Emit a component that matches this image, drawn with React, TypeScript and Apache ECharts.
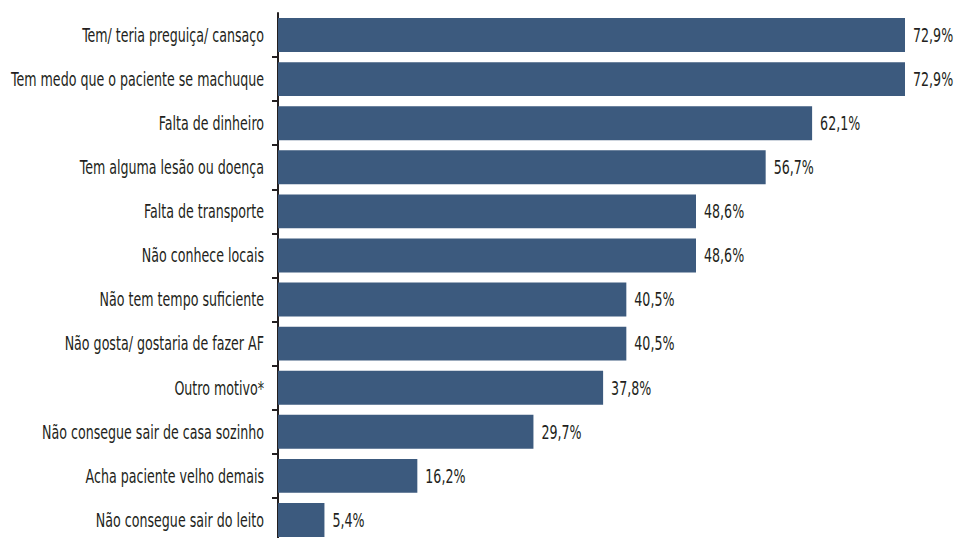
import React, { useEffect, useRef } from "react";
import * as echarts from "echarts";

const categories = [
  "Tem/ teria preguiça/ cansaço",
  "Tem medo que o paciente se machuque",
  "Falta de dinheiro",
  "Tem alguma lesão ou doença",
  "Falta de transporte",
  "Não conhece locais",
  "Não tem tempo suficiente",
  "Não gosta/ gostaria de fazer AF",
  "Outro motivo*",
  "Não consegue sair de casa sozinho",
  "Acha paciente velho demais",
  "Não consegue sair do leito",
];

const values = [72.9, 72.9, 62.1, 56.7, 48.6, 48.6, 40.5, 40.5, 37.8, 29.7, 16.2, 5.4];

const FONT = "'DejaVu Sans Condensed', 'DejaVu Sans', sans-serif";
const TEXT = "#231f20";
const SQUEEZE = 0.74;

export default function App() {
  const ref = useRef<HTMLDivElement>(null);
  useEffect(() => {
    document.body.style.margin = "0";
    document.body.style.overflow = "hidden";
    const chart = echarts.init(ref.current!, undefined, { renderer: "svg" });
    chart.setOption({
      animation: false,
      grid: { left: 278, right: 50, top: 13, height: 529, containLabel: false, outerBoundsMode: "none" },
      xAxis: {
        type: "value",
        min: 0,
        max: 72.9,
        show: false,
      },
      yAxis: {
        type: "category",
        data: categories,
        inverse: true,
        axisLine: { show: true, lineStyle: { color: TEXT, width: 2 } },
        axisTick: {
          show: true,
          length: 6,
          lineStyle: { color: TEXT, width: 2 },
          interval: (i: number) => i !== 0,
        },
        axisLabel: { show: false },
      },
      series: [
        {
          type: "bar",
          data: values,
          barCategoryGap: "23%",
          itemStyle: { color: "#3c5a7e" },
        },
        {
          type: "custom",
          clip: false,
          silent: true,
          data: values.map((v, i) => [v, i]),
          encode: { x: 0, y: 1 },
          renderItem: (params: any, api: any) => {
            const v = api.value(0);
            const i = api.value(1);
            const start = api.coord([0, i]);
            const end = api.coord([v, i]);
            return {
              type: "group",
              children: [
                {
                  type: "text",
                  x: start[0] - 14,
                  y: start[1],
                  scaleX: SQUEEZE,
                  style: {
                    text: categories[i],
                    align: "right",
                    verticalAlign: "middle",
                    fill: TEXT,
                    fontFamily: FONT,
                    fontSize: 19,
                  },
                },
                {
                  type: "text",
                  x: end[0] + 8,
                  y: end[1],
                  scaleX: SQUEEZE,
                  style: {
                    text: v.toFixed(1).replace(".", ",") + "%",
                    align: "left",
                    verticalAlign: "middle",
                    fill: TEXT,
                    fontFamily: FONT,
                    fontSize: 19,
                  },
                },
              ],
            };
          },
        },
      ],
    });
    return () => chart.dispose();
  }, []);
  return <div ref={ref} style={{ width: 955, height: 538 }} />;
}
